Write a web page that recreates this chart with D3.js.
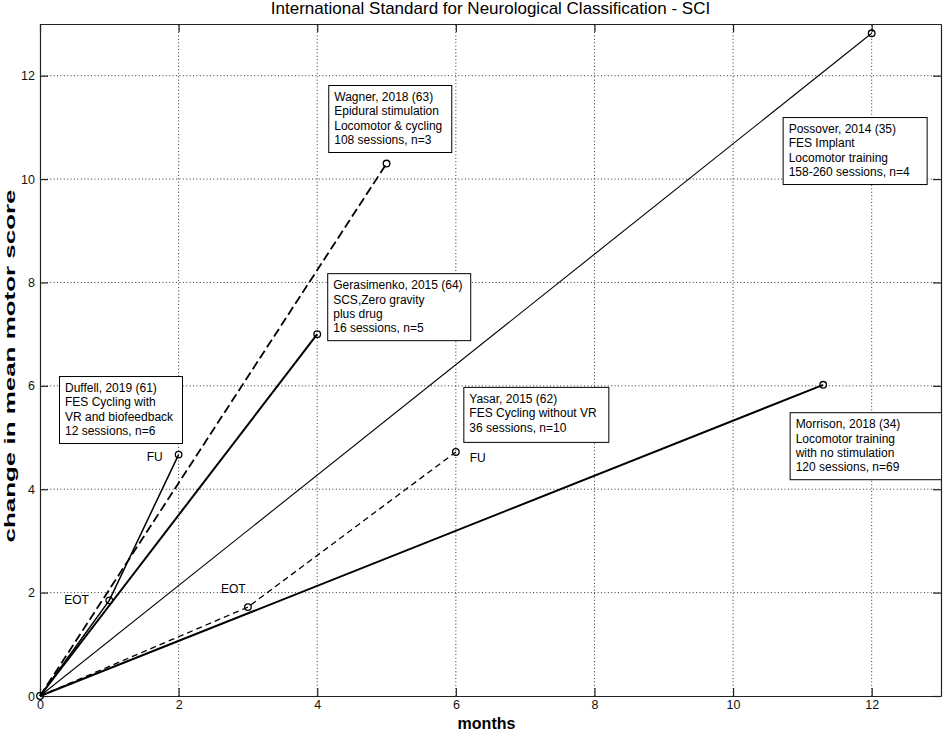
<!DOCTYPE html>
<html>
<head>
<meta charset="utf-8">
<script src="https://cdn.jsdelivr.net/npm/d3@7/dist/d3.min.js"></script>
<style>
  html, body { margin: 0; padding: 0; background: #fff; }
  svg { display: block; font-family: Arial, "Liberation Sans", sans-serif; }
</style>
</head>
<body>
<svg id="chart" width="943" height="732"></svg>
<script>
// ---------------- DATA ----------------
const xTicks = [0, 2, 4, 6, 8, 10, 12];
const yTicks = [0, 2, 4, 6, 8, 10, 12];

const duffellMonths = [0, 1, 2];
const duffellScore  = [0, 1.85, 4.67];

const wagnerMonths = [0, 5];
const wagnerScore  = [0, 10.3];

const gerasimenkoMonths = [0, 4];
const gerasimenkoScore  = [0, 7.0];

const possoverMonths = [0, 12];
const possoverScore  = [0, 12.82];

const yasarMonths = [0, 3, 6];
const yasarScore  = [0, 1.72, 4.72];

const morrisonMonths = [0, 11.3];
const morrisonScore  = [0, 6.02];

const duffellText = ["Duffell, 2019 (61)", "FES Cycling with", "VR and biofeedback", "12 sessions, n=6"];
const wagnerText = ["Wagner, 2018 (63)", "Epidural stimulation", "Locomotor & cycling", "108 sessions, n=3"];
const gerasimenkoText = ["Gerasimenko, 2015 (64)", "SCS,Zero gravity", "plus drug", "16 sessions, n=5"];
const yasarText = ["Yasar, 2015 (62)", "FES Cycling without VR", "36 sessions, n=10"];
const possoverText = ["Possover, 2014 (35)", "FES Implant", "Locomotor training", "158-260 sessions, n=4"];
const morrisonText = ["Morrison, 2018 (34)", "Locomotor training", "with no stimulation", "120 sessions, n=69"];

const titleText = "International Standard for Neurological Classification - SCI";
const xLabel = "months";
const yLabel = "change in mean motor score";

// ---------------- LAYOUT / STYLE ----------------
const margin = { left: 40, top: 24, right: 2, bottom: 36 };
const W = 943, H = 732;
const svg = d3.select("#chart");

const x = d3.scaleLinear().domain([0, 13]).range([margin.left, W - margin.right]);
const y = d3.scaleLinear().domain([0, 13]).range([H - margin.bottom, margin.top]);

const series = [
  { mx: duffellMonths, sy: duffellScore, width: 1.5, dash: null },
  { mx: wagnerMonths, sy: wagnerScore, width: 1.8, dash: "9,4" },
  { mx: gerasimenkoMonths, sy: gerasimenkoScore, width: 2, dash: null },
  { mx: possoverMonths, sy: possoverScore, width: 1.1, dash: null },
  { mx: yasarMonths, sy: yasarScore, width: 1.3, dash: "6,4" },
  { mx: morrisonMonths, sy: morrisonScore, width: 2, dash: null }
];

const boxes = [
  { lines: duffellText, bx: 0.274, by: 6.19, w: 123 },
  { lines: wagnerText, bx: 4.159, by: 11.82, w: 123 },
  { lines: gerasimenkoText, bx: 4.144, by: 8.18, w: 143 },
  { lines: yasarText, bx: 6.108, by: 5.98, w: 145 },
  { lines: possoverText, bx: 10.715, by: 11.20, w: 144 },
  { lines: morrisonText, bx: 10.816, by: 5.49, w: 152 }
];

const pointLabels = [
  { t: "FU", lx: 1.54, ly: 4.55 },
  { t: "EOT", lx: 0.35, ly: 1.78 },
  { t: "EOT", lx: 2.61, ly: 1.99 },
  { t: "FU", lx: 6.2, ly: 4.52 }
];

const x0 = x(0), x1 = x(13), y0 = y(0), y1 = y(13);

// grid
const grid = svg.append("g").attr("stroke", "#333").attr("stroke-width", 1).attr("stroke-dasharray", "1,2.4");
grid.selectAll("line.gx").data(xTicks.filter(d => d > 0)).join("line")
  .attr("x1", d => x(d)).attr("x2", d => x(d)).attr("y1", y0).attr("y2", y1);
grid.selectAll("line.gy").data(yTicks.filter(d => d > 0)).join("line")
  .attr("y1", d => y(d)).attr("y2", d => y(d)).attr("x1", x0).attr("x2", x1);

// axes
function styleAxis(g) {
  g.selectAll("path.domain").attr("stroke", "#222").attr("stroke-width", 1.2);
  g.selectAll(".tick line").attr("stroke", "#222").attr("stroke-width", 1.2);
  g.selectAll("text").attr("font-size", 12.5).attr("fill", "#111").attr("font-family", "Arial, 'Liberation Sans', sans-serif");
}
svg.append("g").attr("transform", `translate(0,${y0})`)
  .call(d3.axisBottom(x).tickValues(xTicks).tickSize(-8).tickPadding(4).tickSizeOuter(0))
  .call(styleAxis);
svg.append("g").attr("transform", `translate(0,${y1})`)
  .call(d3.axisTop(x).tickValues(xTicks).tickSize(-8).tickFormat("").tickSizeOuter(0))
  .call(styleAxis);
svg.append("g").attr("transform", `translate(${x0},0)`)
  .call(d3.axisLeft(y).tickValues(yTicks).tickSize(-8).tickPadding(5).tickSizeOuter(0))
  .call(styleAxis);
svg.append("g").attr("transform", `translate(${x1},0)`)
  .call(d3.axisRight(y).tickValues(yTicks).tickSize(-8).tickFormat("").tickSizeOuter(0))
  .call(styleAxis);

// clip region
svg.append("clipPath").attr("id", "plotclip").append("rect")
  .attr("x", x0).attr("y", y1).attr("width", x1 - x0).attr("height", y0 - y1);

const plot = svg.append("g");

// lines
const lineGen = d3.line().x(d => x(d[0])).y(d => y(d[1]));
series.forEach(s => {
  const pts = s.mx.map((m, i) => [m, s.sy[i]]);
  plot.append("path").attr("d", lineGen(pts))
    .attr("fill", "none").attr("stroke", "#000")
    .attr("stroke-width", s.width)
    .attr("stroke-dasharray", s.dash);
  plot.selectAll(null).data(pts.filter(p => p[0] > 0)).join("circle")
    .attr("cx", d => x(d[0])).attr("cy", d => y(d[1])).attr("r", 3.3)
    .attr("fill", "none").attr("stroke", "#000").attr("stroke-width", 1.3);
});
// origin marker
plot.append("circle").attr("cx", x(0)).attr("cy", y(0)).attr("r", 3.3)
  .attr("fill", "none").attr("stroke", "#000").attr("stroke-width", 1.3);

// point labels
plot.selectAll("text.pl").data(pointLabels).join("text")
  .attr("x", d => x(d.lx)).attr("y", d => y(d.ly))
  .attr("font-size", 12).attr("fill", "#000").text(d => d.t);

// annotation boxes
const bg = svg.append("g").attr("clip-path", "url(#plotclip)");
boxes.forEach(b => {
  const bx = x(b.bx), by = y(b.by);
  const h = b.lines.length === 4 ? 67 : 55;
  bg.append("rect").attr("x", bx + 0.5).attr("y", by + 0.5).attr("width", b.w).attr("height", h)
    .attr("fill", "#fff").attr("stroke", "#000").attr("stroke-width", 1);
  bg.selectAll(null).data(b.lines).join("text")
    .attr("x", bx + 6).attr("y", (d, i) => by + 16 + i * 14.4)
    .attr("font-size", 12).attr("fill", "#000").text(d => d);
});

// title
svg.append("text").attr("x", (x0 + x1) / 2).attr("y", 14)
  .attr("text-anchor", "middle").attr("font-size", 17).attr("fill", "#000").text(titleText);

// x label
svg.append("text").attr("x", (x0 + x1) / 2 - 4).attr("y", 729)
  .attr("text-anchor", "middle").attr("font-size", 16).attr("font-weight", "bold").attr("fill", "#000").text(xLabel);

// y label
svg.append("text").attr("transform", `translate(15,${(y0 + y1) / 2 + 6}) rotate(-90)`)
  .attr("text-anchor", "middle").attr("font-size", 14.5).attr("font-weight", "bold")
  .attr("textLength", 353).attr("lengthAdjust", "spacingAndGlyphs")
  .attr("fill", "#000").text(yLabel);
</script>
</body>
</html>
